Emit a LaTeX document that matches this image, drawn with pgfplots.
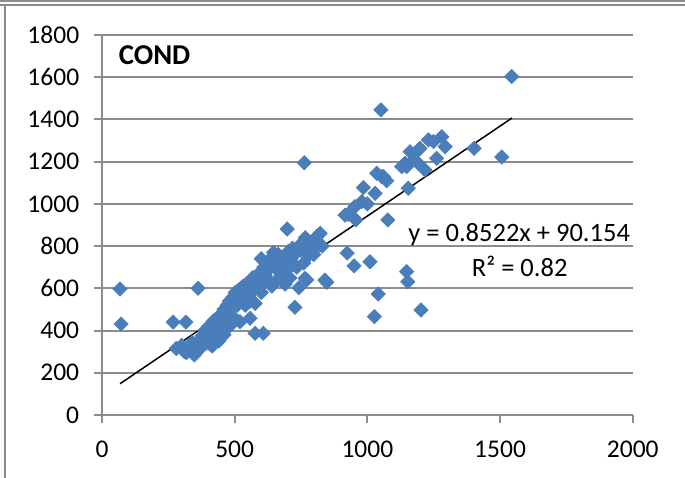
\documentclass[border=0pt]{standalone}
\usepackage{fontspec}
\setmainfont{Carlito}
\usepackage{pgfplots}
\pgfplotsset{compat=1.18}
\definecolor{mk}{HTML}{4A7EBB}
\definecolor{gr}{HTML}{8C8C8C}
\begin{document}
\begin{tikzpicture}
\begin{axis}[name=ax, scale only axis, width=212.3pt, height=152pt,
  xmin=0, xmax=2000, ymin=0, ymax=1800,
  xtick={0,500,...,2000}, ytick={0,200,...,1800},
  axis x line=bottom, axis y line=left,
  axis line style={-, gr, line width=0.8pt},
  ymajorgrids, major grid style={gr, line width=0.8pt},
  tick style={gr, line width=0.8pt}, tick align=outside, major tick length=3.2pt,
  /pgf/number format/assume math mode=true,
  /pgf/number format/1000 sep={},
  ticklabel style={font=\fontsize{10.2}{12}\selectfont, text=black},
  yticklabel style={xshift=-2.4pt},
  xticklabel style={yshift=-3.8pt},
  clip=false]
\addplot[only marks, mark=square*, mark size=2pt,
  mark options={rotate=45, fill=mk, draw=mk, line width=0.3pt}] table {
x y
68 597
72 431
268 440
316 440
362 600
280 315
300 330
310 300
318 295
330 320
340 345
348 285
352 310
358 300
362 330
368 355
372 320
378 375
383 350
388 400
392 340
398 380
402 420
408 360
412 330
416 400
420 445
425 380
430 420
434 395
438 460
442 430
446 410
450 480
455 450
460 500
463 470
468 430
472 520
476 490
480 540
485 510
490 470
494 560
498 530
502 580
506 550
510 520
514 590
518 570
522 600
528 560
532 610
538 590
544 620
550 600
556 630
562 580
568 650
574 620
586 660
592 640
598 680
604 620
610 700
616 660
622 720
628 690
634 740
640 710
646 770
652 730
658 690
664 760
670 720
676 680
684 740
692 700
698 760
702 775
710 740
718 790
726 760
734 700
742 800
750 780
758 820
766 840
774 800
782 760
790 810
798 830
806 790
814 850
822 860
830 800
640 610
660 640
680 650
690 620
708 650
742 603
765 647
771 640
727 510
840 639
847 629
520 442
558 458
577 387
608 387
577 529
416 327
432 395
382 355
413 332
440 350
460 380
480 420
500 450
540 520
600 580
560 540
620 640
700 690
760 720
798 760
600 740
698 881
762 1195
924 767
950 706
1010 726
1148 679
1152 631
1041 573
1026 466
1202 497
1077 924
928 951
916 947
957 924
953 987
979 1011
1000 1000
985 1077
1029 1050
1035 1145
1054 1129
1060 1129
1073 1110
1051 1445
1129 1176
1136 1184
1142 1192
1148 1176
1154 1074
1161 1247
1173 1208
1192 1255
1192 1192
1198 1263
1217 1161
1230 1303
1249 1295
1261 1216
1280 1318
1293 1271
1402 1263
1506 1222
1544 1603
};
\addplot[black, line width=0.6pt] coordinates {(68,148.1) (1545,1406.8)};
\node[anchor=west, font=\fontsize{11.5}{13}\selectfont\bfseries] at ([xshift=3.2pt,yshift=-8.2pt]rel axis cs:0,1) {COND};
\node[font=\fontsize{10.6}{12}\selectfont] at (axis cs:1572,853) {y = 0.8522x + 90.154};
\node[font=\fontsize{10.6}{12}\selectfont] at (axis cs:1574,702) {R² = 0.82};
\end{axis}
\coordinate (TL) at ([xshift=-40.8pt,yshift=14pt]ax.north west);
\coordinate (BR) at ([xshift=20.9pt,yshift=-25.2pt]ax.south east);
\pgfresetboundingbox
\path[use as bounding box] (TL) rectangle (BR);
\draw[gr, line width=0.8pt] ([yshift=-0.5pt]TL) -- ([yshift=-0.5pt]TL -| BR);
\draw[gr, line width=0.8pt] ([yshift=-2pt]TL) -- ([yshift=-2pt]TL -| BR);
\draw[gr, line width=0.8pt] ([xshift=2pt,yshift=-2pt]TL) -- ([xshift=2pt]TL |- BR);
\end{tikzpicture}
\end{document}
